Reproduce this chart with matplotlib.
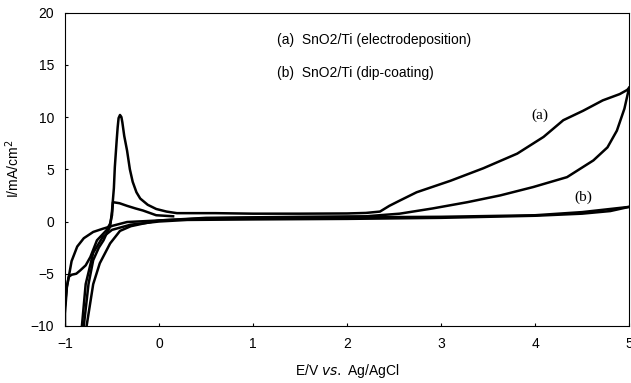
import matplotlib
matplotlib.use("Agg")
import matplotlib.pyplot as plt

plt.rcParams['font.family'] = ['Liberation Sans', 'DejaVu Sans']

# (a) SnO2/Ti electrodeposition - first cycle, forward and reverse sweep
a_fwd_x = [-0.80, -0.75, -0.70, -0.64, -0.59, -0.55, -0.52, -0.50, -0.48, -0.47, -0.45,
           -0.44, -0.43, -0.415, -0.40, -0.39, -0.37, -0.34, -0.31, -0.28, -0.24,
           -0.20, -0.12, -0.03, 0.08, 0.19, 0.6, 1.0, 1.5, 2.0, 2.2, 2.35, 2.45, 2.56,
           2.74, 3.1, 3.45, 3.81, 4.09, 4.30, 4.51, 4.72, 4.90, 4.98, 5.0]
a_fwd_y = [-10.0, -6.0, -3.7, -2.5, -1.8, -1.0, -0.5, 1.0, 3.2, 5.2, 7.8,
           9.0, 9.9, 10.2, 10.0, 9.5, 8.2, 6.8, 5.0, 3.8, 2.8,
           2.2, 1.6, 1.2, 0.95, 0.8, 0.8, 0.75, 0.75, 0.77, 0.82, 0.95, 1.5, 2.0,
           2.8, 3.9, 5.1, 6.5, 8.1, 9.7, 10.6, 11.6, 12.2, 12.6, 12.8]
a_rev_x = [5.0, 4.95, 4.87, 4.77, 4.62, 4.34, 3.98, 3.63, 3.28, 2.91, 2.56, 2.2, 1.5, 1.0,
           0.5, 0.0, -0.34, -0.49, -0.60, -0.70, -0.80, -0.87, -0.93, -0.98, -1.0, -1.0]
a_rev_y = [12.8, 10.8, 8.7, 7.1, 5.85, 4.25, 3.3, 2.5, 1.85, 1.25, 0.75, 0.5, 0.45, 0.4,
           0.35, 0.1, -0.05, -0.4, -0.7, -1.0, -1.6, -2.4, -3.8, -6.3, -8.8, -10.0]
# return loop from the negative limit (kink near -5)
a_loop_x = [-1.0, -0.98, -0.96, -0.93, -0.88, -0.84, -0.78, -0.73, -0.66, -0.56, -0.52,
            -0.50, -0.49, -0.42, -0.34, -0.25, -0.17, -0.03, 0.15]
a_loop_y = [-8.0, -6.2, -5.3, -5.1, -5.0, -4.7, -4.2, -3.4, -1.8, -0.85, -0.2,
            0.6, 1.85, 1.75, 1.5, 1.25, 1.05, 0.6, 0.5]

# (b) SnO2/Ti dip-coating
b_fwd_x = [-0.77, -0.70, -0.63, -0.52, -0.415, -0.30, -0.17, 0.0, 0.5, 1.0, 2.0, 3.0, 4.0, 4.5, 5.0]
b_fwd_y = [-10.0, -6.0, -4.0, -2.1, -0.9, -0.45, -0.2, 0.1, 0.3, 0.35, 0.4, 0.45, 0.6, 0.9, 1.4]
b_rev_x = [5.0, 4.8, 4.5, 4.0, 3.0, 2.0, 1.0, 0.3, 0.0, -0.3, -0.5, -0.6, -0.7, -0.78, -0.82]
b_rev_y = [1.4, 1.0, 0.75, 0.55, 0.35, 0.25, 0.2, 0.15, 0.0, -0.3, -0.8, -1.5, -3.0, -6.0, -10.0]

fig = plt.figure(figsize=(6.31, 3.83), dpi=100)
ax = fig.add_axes([0.103, 0.149, 0.894, 0.818])

lw = 1.8
ax.plot(a_fwd_x, a_fwd_y, color="black", lw=lw)
ax.plot(a_rev_x, a_rev_y, color="black", lw=lw)
ax.plot(a_loop_x, a_loop_y, color="black", lw=lw)
ax.plot(b_fwd_x, b_fwd_y, color="black", lw=lw)
ax.plot(b_rev_x, b_rev_y, color="black", lw=lw)

ax.set_xlim(-1, 5)
ax.set_ylim(-10, 20)
ax.set_xticks([-1, 0, 1, 2, 3, 4, 5])
ax.set_yticks([-10, -5, 0, 5, 10, 15, 20])
ax.tick_params(direction="in", length=2, labelsize=10, pad=8)

ax.set_xlabel(r"E/V $\it{vs.}$ Ag/AgCl", fontsize=10, labelpad=8)
ax.set_ylabel(r"I/mA/cm$^2$", fontsize=10, labelpad=6)

ax.text(1.25, 17.35, "(a)  SnO2/Ti (electrodeposition)", fontsize=10, va="center")
ax.text(1.25, 14.2, "(b)  SnO2/Ti (dip-coating)", fontsize=10, va="center")
ax.text(4.05, 10.2, "(a)", fontsize=11, family="Liberation Serif", ha="center", va="center")
ax.text(4.51, 2.3, "(b)", fontsize=11, family="Liberation Serif", ha="center", va="center")

fig.savefig("out.png", dpi=100)
